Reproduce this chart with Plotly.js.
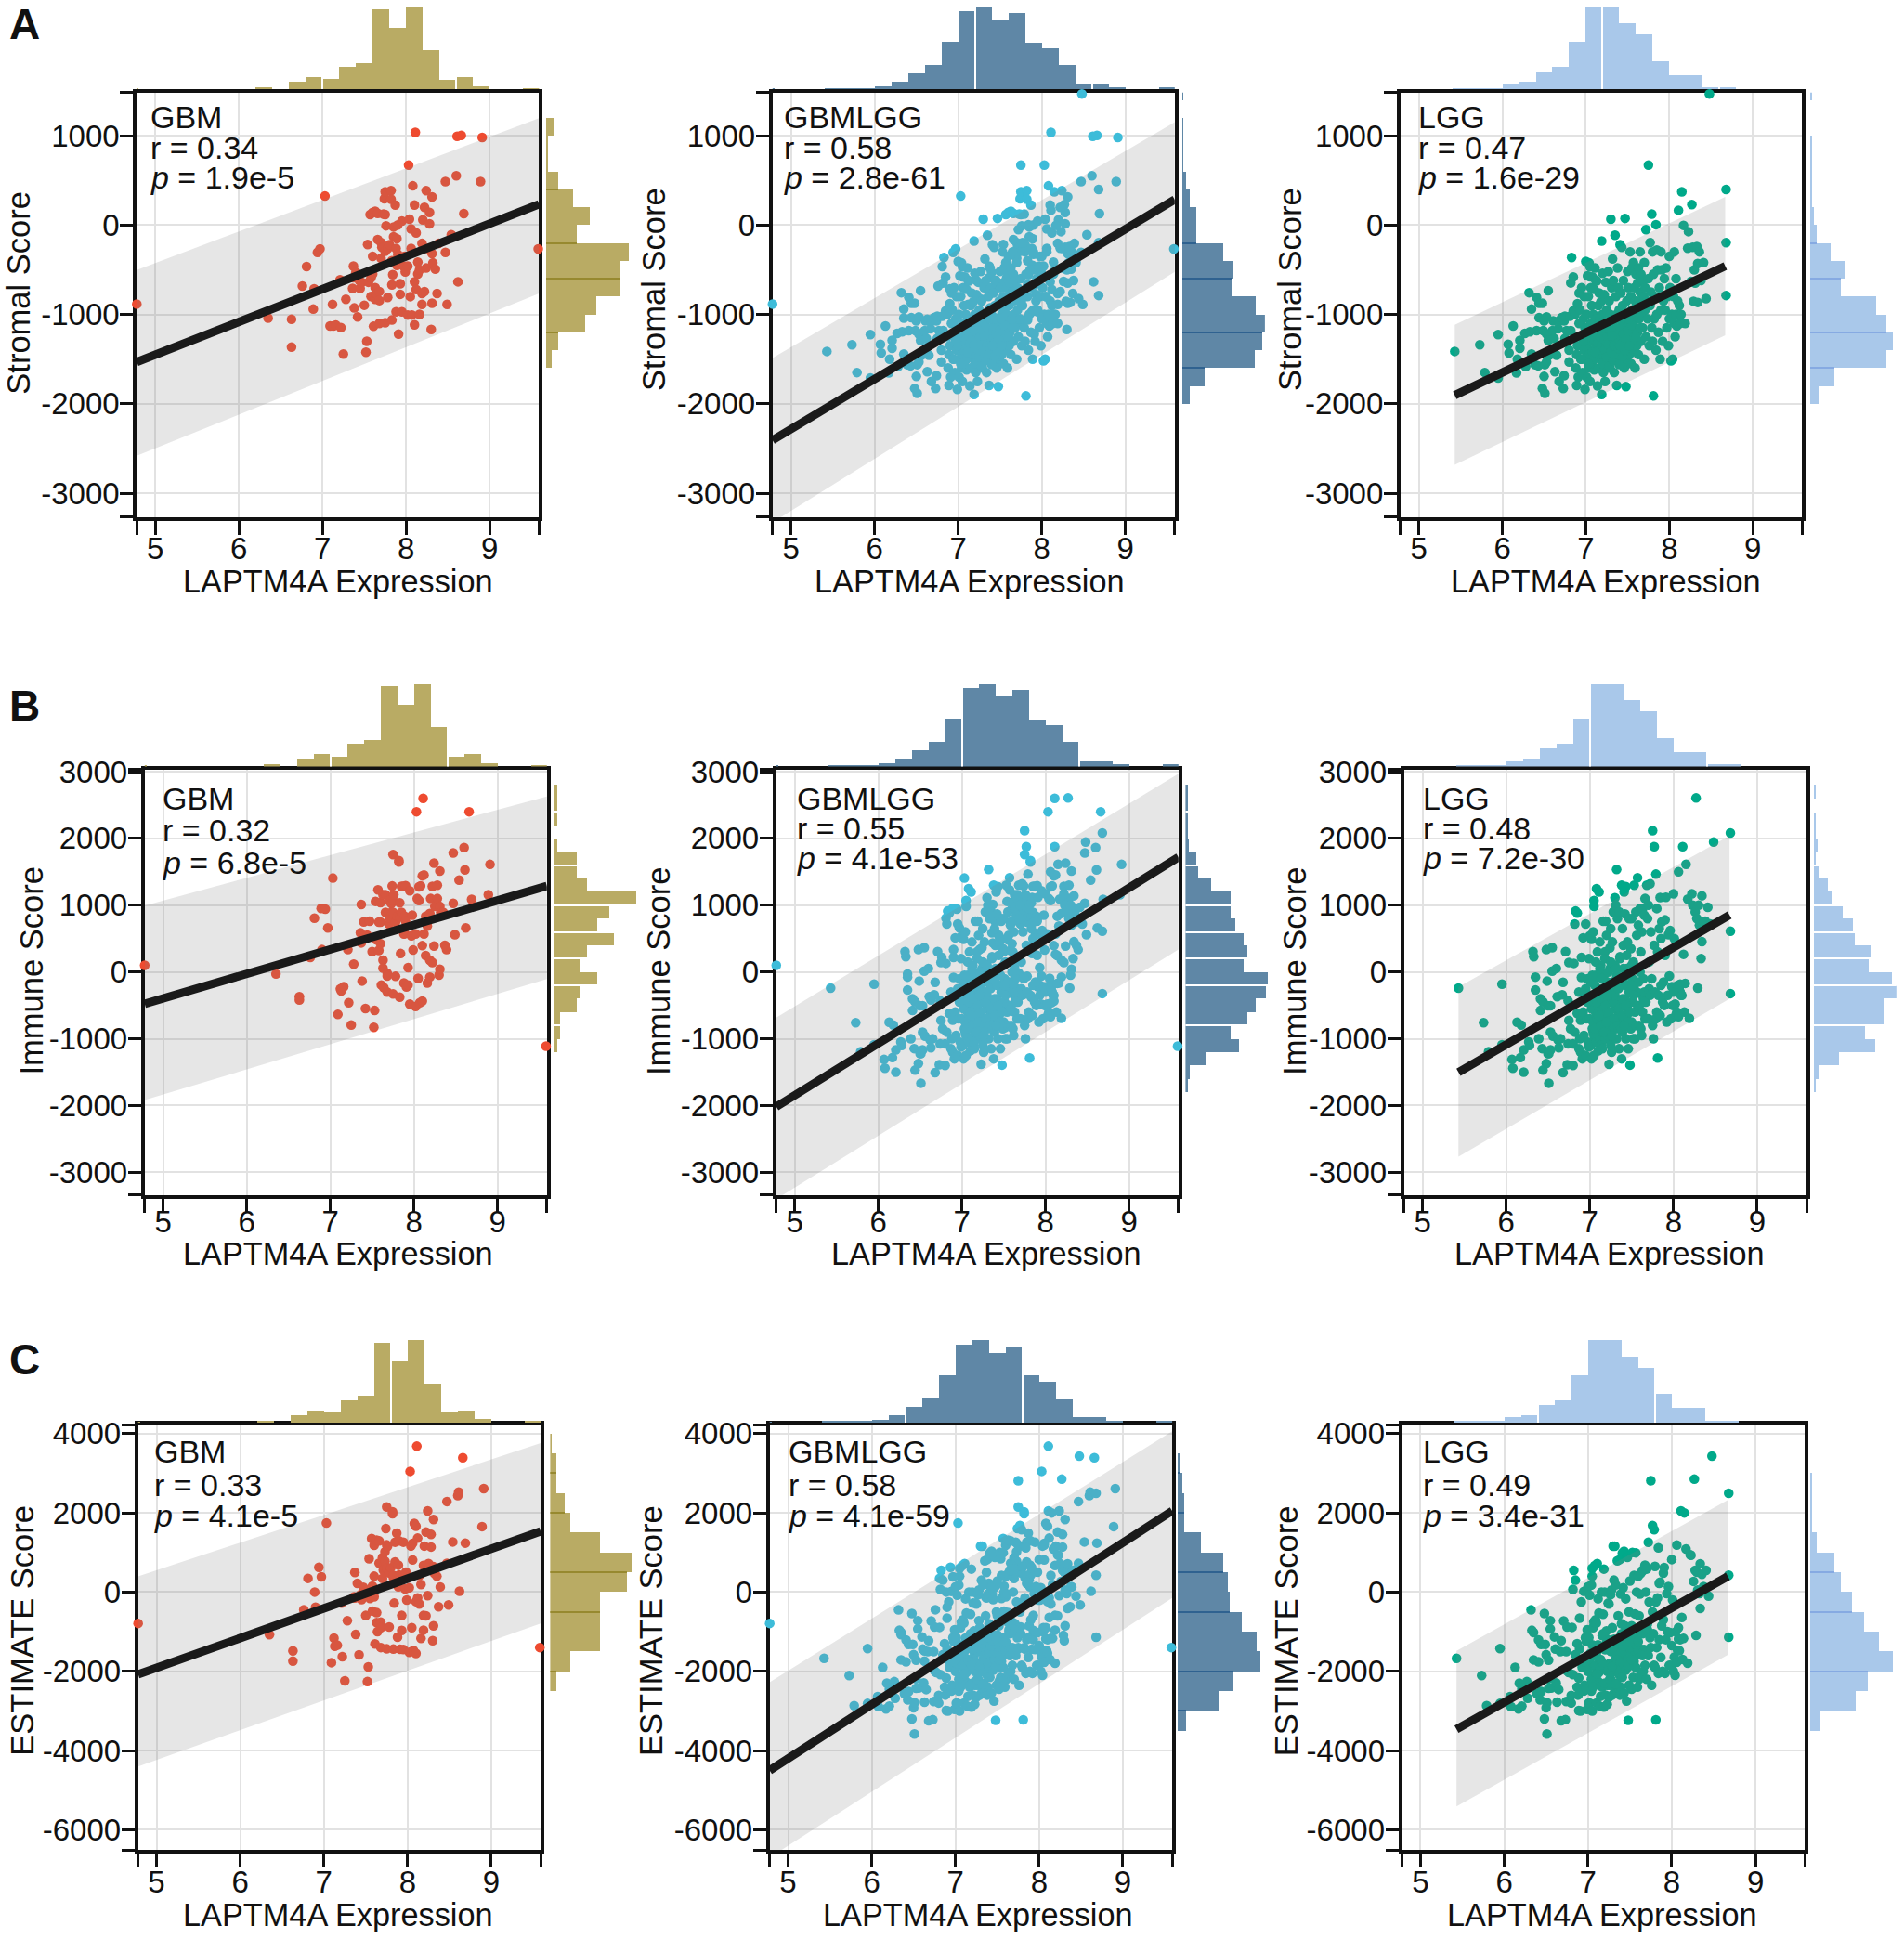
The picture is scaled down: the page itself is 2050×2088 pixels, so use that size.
<!DOCTYPE html>
<html><head><meta charset="utf-8">
<script src="https://cdn.plot.ly/plotly-3.0.1.min.js"></script>
<style>html,body{margin:0;padding:0;background:#fff}#chart{width:2050px;height:2088px}</style>
</head><body><div id="chart"></div>
<script>
// ---------- DATA: values ----------
const gbmX=[4.78,9.58,6.35,6.63,6.63,6.76,6.81,6.89,6.9,6.94,
6.97,7.03,7.09,7.12,7.13,7.16,7.21,7.22,7.25,7.28,
7.36,7.37,7.37,7.38,7.4,7.42,7.44,7.45,7.47,7.5,
7.52,7.53,7.54,7.55,7.57,7.58,7.58,7.6,7.6,7.6,
7.61,7.63,7.63,7.63,7.64,7.66,7.66,7.68,7.68,7.68,
7.7,7.7,7.71,7.73,7.73,7.74,7.75,7.75,7.75,7.75,
7.76,7.78,7.78,7.8,7.82,7.82,7.83,7.83,7.83,7.84,
7.85,7.85,7.87,7.88,7.88,7.89,7.89,7.9,7.9,7.91,
7.93,7.93,7.95,7.95,7.97,7.98,7.99,8.02,8.02,8.03,
8.04,8.05,8.06,8.06,8.07,8.08,8.1,8.1,8.1,8.11,
8.12,8.12,8.14,8.14,8.16,8.16,8.19,8.19,8.19,8.2,
8.22,8.22,8.24,8.24,8.25,8.28,8.28,8.3,8.31,8.31,
8.31,8.32,8.35,8.37,8.39,8.47,8.47,8.49,8.54,8.6,
8.61,8.62,8.66,8.69,8.89,8.91];
const gbmStromal=[-884,-267,-1041,-1055,-1365,-683,-464,-941,-713,-306,
-267,324,-1129,-888,-1129,-1120,-613,-1147,-1444,-831,
-709,-460,-590,-928,-530,-1028,-620,-709,-640,-897,
-1422,-1300,-219,-640,118,-591,-800,140,-350,-547,
-1133,153,-700,-831,-766,131,-162,-744,-845,-1100,
-197,-372,-250,122,-249,293,372,118,-293,-1094,
-9,-262,-810,-220,385,289,-670,-1063,-400,-556,
-22,-131,223,-262,-971,-153,-451,0,-328,-1221,
-656,-775,44,-971,-460,-350,-525,-460,-1006,670,
66,-801,-44,-262,-1006,438,-635,223,-1116,1037,
-88,-722,-547,-416,-503,-1000,-206,-766,-888,57,
197,-744,385,-481,-262,140,13,-1168,315,-319,
-875,-424,-494,-766,-206,486,-306,-888,-109,551,
993,-635,1002,127,486,980];
const gbmImmune=[100,-1110,-30,-418,-370,218,806,953,335,941,
659,1406,-635,-253,-282,-220,335,-459,-794,118,
588,1012,435,-135,750,-547,553,520,760,306,
-829,-576,1058,482,1229,747,323,1040,747,423,
-194,1158,176,59,-235,1158,894,-18,-60,-300,
1070,717,806,894,1023,1288,1758,1070,894,-329,
1158,747,-65,835,1646,1670,1035,-376,823,276,
1282,894,1282,570,-165,835,576,1294,760,-223,
65,-194,1217,-480,541,850,329,570,-517,2400,
1100,-94,1276,1070,-459,1290,394,1440,-435,2600,
1452,570,247,835,688,-165,876,176,-76,1100,
1282,141,1629,388,982,1300,1100,-47,1511,982,
41,894,894,400,335,1782,1029,559,1376,1864,
1529,659,2400,1088,1158,1611];
const gbmEstimate=[-790,-1400,-1075,-1484,-1740,-445,346,0,-380,623,
386,1741,-1780,-1160,-1365,-1340,-280,-1632,-2240,-722,
-120,495,-150,-1068,220,-1583,-60,-190,120,-590,
-2260,-1890,840,-160,1350,150,-480,1180,400,-120,
-1310,1310,-520,-770,-1000,1290,730,-760,-900,-1400,
870,345,555,1016,775,1602,2146,1190,600,-1434,
1150,485,-880,615,2027,1978,365,-1440,420,-280,
1260,760,1484,310,-1140,680,130,1290,430,-1445,
-590,-970,1260,-1450,80,500,-200,110,-1520,3046,
1160,-900,1230,810,-1470,1730,-240,1660,-1550,3680,
1360,-150,-300,420,190,-1170,670,-590,-960,1160,
1513,-600,2047,-90,720,1454,1137,-1226,1830,640,
-850,470,400,-370,129,2285,725,-326,1266,2434,
2522,20,3390,1236,1652,2611];

const lggX=[5.43,5.73,5.79,5.95,5.95,6.07,6.08,6.13,6.17,6.18,
6.21,6.21,6.27,6.28,6.32,6.33,6.35,6.35,6.39,6.41,
6.41,6.43,6.44,6.44,6.48,6.48,6.49,6.5,6.5,6.51,
6.51,6.53,6.53,6.53,6.55,6.55,6.56,6.6,6.61,6.62,
6.63,6.65,6.67,6.68,6.68,6.71,6.73,6.74,6.74,6.75,
6.75,6.77,6.8,6.8,6.81,6.82,6.82,6.83,6.85,6.85,
6.87,6.87,6.88,6.89,6.89,6.9,6.9,6.91,6.92,6.92,
6.93,6.94,6.95,6.95,6.96,6.97,6.98,6.98,6.99,6.99,
7,7,7.01,7.01,7.02,7.02,7.03,7.03,7.04,7.04,
7.05,7.05,7.05,7.05,7.06,7.06,7.07,7.07,7.08,7.08,
7.09,7.09,7.1,7.1,7.1,7.11,7.11,7.12,7.12,7.12,
7.13,7.13,7.14,7.14,7.15,7.15,7.16,7.16,7.17,7.17,
7.18,7.18,7.19,7.19,7.19,7.2,7.2,7.2,7.21,7.21,
7.22,7.22,7.23,7.23,7.24,7.24,7.25,7.25,7.26,7.26,
7.27,7.27,7.28,7.28,7.29,7.29,7.3,7.3,7.31,7.31,
7.32,7.32,7.33,7.33,7.34,7.34,7.35,7.35,7.36,7.36,
7.37,7.37,7.38,7.38,7.39,7.39,7.4,7.4,7.41,7.41,
7.42,7.42,7.43,7.43,7.44,7.44,7.45,7.45,7.46,7.46,
7.47,7.47,7.48,7.48,7.49,7.49,7.5,7.5,7.51,7.51,
7.52,7.52,7.53,7.53,7.54,7.54,7.55,7.55,7.56,7.56,
7.57,7.57,7.58,7.58,7.59,7.59,7.6,7.6,7.61,7.61,
7.62,7.62,7.63,7.63,7.64,7.64,7.65,7.65,7.66,7.66,
7.67,7.68,7.68,7.69,7.7,7.7,7.71,7.71,7.72,7.72,
7.73,7.74,7.75,7.75,7.76,7.77,7.77,7.78,7.79,7.79,
7.8,7.8,7.81,7.81,7.82,7.83,7.84,7.84,7.85,7.85,
7.86,7.87,7.88,7.89,7.9,7.9,7.91,7.92,7.93,7.94,
7.95,7.96,7.97,7.98,7.99,8,8,8.01,8.02,8.03,
8.04,8.05,8.06,8.06,8.07,8.08,8.08,8.09,8.1,8.11,
8.12,8.13,8.14,8.15,8.17,8.19,8.22,8.23,8.26,8.27,
8.28,8.29,8.3,8.31,8.33,8.34,8.34,8.36,8.38,8.41,
8.44,8.48,8.68,8.68,8.68,
// overplotted core of the cloud
7,7.02,7.04,7.05,7.06,7.07,7.08,7.09,7.1,7.1,
7.12,7.13,7.14,7.15,7.16,7.17,7.18,7.19,7.2,7.2,
7.22,7.23,7.24,7.25,7.26,7.27,7.28,7.29,7.3,7.3,
7.32,7.33,7.34,7.35,7.36,7.37,7.38,7.39,7.4,7.4,
7.42,7.43,7.44,7.45,7.46,7.47,7.48,7.5,7.52,7.55,
6.95,6.97,7.03,7.11,7.21,7.31,7.41,7.51,7.6,7.65];
const lggStromal=[-1414,-1339,-1650,-1225,-1711,-1335,-1431,-1129,-1654,-1501,
-1291,-1379,-1212,-1584,-757,-1195,-941,-1444,-1562,-810,
-1182,-1575,-875,-1037,-875,-1829,-1182,-1694,-1072,-1882,
-1562,-1028,-1532,-1217,-735,-1291,-1457,-1182,-1072,-1269,
-1641,-1457,-1160,-1750,-1072,-1037,-1829,-1685,-1072,-1020,
-1269,-1182,-1400,-1532,-1020,-1182,-648,-363,-582,-960,
-1000,-1250,-1600,-1794,-1450,-880,-1350,-1700,-760,-1100,
-950,-1500,-1250,-700,-1650,-1050,-1400,-800,-1838,-1150,
-407,-1300,-1700,-1000,-569,-1500,-1200,-800,-424,-1600,
-468,-580,-1400,-1750,-1100,-700,-1550,-900,-582,-1250,
-1300,-1000,-1620,-1150,-720,-480,-1450,-1050,-1250,-620,
-626,-1380,-1800,-1150,-900,-1480,-1250,-760,-1600,-1050,
-1350,-860,-179,-1895,-1200,-1500,-1000,-540,-1650,-1300,
-1100,-780,-1450,-1750,-1250,-640,-1550,-950,-1350,-1150,
-520,-1400,-1200,-850,-1600,-1000,66,-1300,-1100,-700,
-1500,-380,-1250,-620,-1050,-1650,-114,-1350,-800,-1150,
-1794,-1000,-480,-1300,-1500,-700,-950,-1200,-1050,-220,
-1250,-760,-1550,-250,-1100,-900,-1400,-620,-1200,-1600,
74,-1050,-1807,-1300,-850,-1500,-1100,-520,-1250,-700,
-1000,-1450,-300,-1200,-800,-1550,-950,-480,-1300,-1100,
-420,-1400,-700,-1000,-1600,-850,-1150,-550,-1350,-900,
-650,-1200,-480,-1450,-850,-1050,-300,-750,-1300,-550,
-1000,-620,-1150,-800,-1500,-420,-950,-700,-52,-1250,
-850,-1050,670,-600,-1350,-197,-900,-750,123,-1150,
-300,-1300,-1912,-550,-1050,-800,4,-1400,-280,-1000,
-500,-1200,-700,-1500,-300,-950,-500,-1300,-850,-600,
-950,-480,-1150,-800,-1350,-350,-1050,-700,-1520,-1000,
-1500,-800,-1100,-300,-1250,-600,-1000,-1130,-850,165,
-900,-1100,-1000,372,-4,-1100,-260,-74,-630,228,
-250,-853,-500,-650,-240,-866,-430,-300,-620,-420,
-823,1466,398,-197,-788,
-1350,-1250,-1450,-1180,-1550,-1300,-1420,-1150,-1280,-1500,
-1380,-1200,-1320,-1600,-1100,-1450,-1250,-1350,-1180,-1550,
-1280,-1400,-1120,-1480,-1250,-1340,-1580,-1180,-1420,-1080,
-1260,-1520,-1350,-1150,-1450,-1230,-1050,-1380,-1280,-1560,
-1160,-1330,-1470,-1220,-1050,-1400,-1280,-1180,-1350,-1120,
-1500,-1300,-1550,-1420,-1080,-1240,-1350,-1050,-1250,-1150];
const lggImmune=[-241,-759,-1194,-182,-1088,-1310,-1441,-753,-1282,-794,
-1165,-1500,-1047,-1100,306,229,-76,-270,-1000,-400,
-576,-1147,-447,-1470,335,-1370,-135,-1223,-506,-1665,
-1223,-1165,-900,-506,12,365,-960,53,-370,-1018,
-1135,-1000,-341,-1506,-153,306,-1388,-1076,-430,141,
-724,-850,-1400,-1076,129,-900,718,912,882,-620,
-300,-1150,-1000,-1200,-720,218,-80,-1300,512,-600,
-950,-300,-1250,718,-700,-100,-1050,-450,-1120,200,
541,-700,-1100,-150,490,-1300,-350,-850,600,-900,
1070,982,-950,-1250,-500,-200,-600,150,1247,-1050,
-800,300,-1180,-350,-60,1200,-500,-750,-1000,450,
100,-650,-1080,-250,-900,-1150,-520,760,-800,-50,
-1000,300,760,-1000,-700,-350,-450,550,-950,-150,
-850,-200,-1382,-600,50,360,-1100,650,-450,-1200,
450,-800,-300,900,-1000,100,1112,-550,-850,1000,
-1000,1535,-450,800,-750,-650,900,-1150,200,-150,
-650,-500,1300,-1300,-900,650,-100,400,-800,1200,
-400,870,-1000,1280,-700,50,-550,450,-200,-1150,
800,-600,-1394,-300,350,-850,-750,800,-100,-450,
150,-1000,1300,-250,-1000,-600,-800,900,-300,550,
1412,-500,700,-150,-800,-550,-320,950,-850,300,
600,-950,950,-600,-100,-400,850,-300,-700,1100,
-450,1300,-700,800,-700,1000,150,-250,1320,-350,
600,-100,2118,-800,-1000,1876,400,-300,1465,-700,
950,-600,-1288,300,-350,650,1115,-650,500,-200,
750,-450,-150,-500,780,250,1120,-750,-350,560,
-60,620,-700,-220,-500,1170,-300,500,-480,-640,
-600,-200,-670,1500,-220,-300,-180,-350,-350,1876,
265,-600,-170,1612,1090,-694,1170,1000,900,2606,
800,-241,1000,700,200,453,1141,750,760,970,
720,1947,2082,612,-323,
-350,-550,-750,-150,-850,-50,-450,-700,-250,-600,
50,-800,-400,-100,-650,-900,200,-500,-200,-750,
0,-600,-300,150,-950,-150,-450,-700,100,-350,
-50,-800,-250,-550,230,-850,-100,-400,-650,50,
-200,-500,250,-750,-50,-300,-600,100,-350,-150,
-250,-450,-50,-650,-350,50,-800,-200,0,-450];
const lggEstimate=[-1670,-2107,-2868,-1424,-2810,-2640,-2890,-1900,-2950,-2300,
-2450,-2880,-2260,-2680,-450,-965,-1020,-1710,-2560,-1210,
-1760,-2720,-1320,-2510,-540,-3200,-1320,-2920,-1580,-3580,
-2790,-2190,-2430,-1720,-720,-930,-2420,-1130,-1440,-2290,
-2780,-2460,-1500,-3250,-1225,-730,-3220,-2760,-1500,-880,
-1990,-2030,-2800,-2610,-890,-2080,70,549,300,-1580,
-1300,-2400,-2600,-2990,-2170,-660,-1430,-3000,-250,-1700,
-1900,-1800,-2500,18,-2350,-1150,-2450,-1250,-2960,-950,
134,-2000,-2800,-1150,-80,-2800,-1550,-1650,176,-2500,
600,400,-2350,-3000,-1600,-900,-2150,-750,665,-2300,
-2100,-700,-2800,-1500,-780,720,-1950,-1800,-2250,-170,
-530,-2030,-2880,-1400,-1800,-2630,-1770,0,-2400,-1100,
-2350,-560,580,-2900,-1900,-1850,-1450,0,-2600,-1450,
-1950,-980,-2830,-2350,-1200,-280,-2650,-300,-1800,-2350,
-70,-2200,-1500,50,-2600,-900,1157,-1850,-1950,300,
-2500,1157,-1700,180,-1800,-2300,790,-2500,-600,-1300,
-2450,-1500,820,-2600,-2400,-50,-1050,-800,-1850,980,
-1650,110,-2550,1030,-1800,-850,-1950,-170,-1400,-2750,
874,-1650,-3234,-1600,-500,-2350,-1850,280,-1350,-1150,
-850,-2450,1000,-1450,-1800,-2150,-1750,420,-1600,-550,
990,-1900,0,-1150,-2400,-1400,-1470,400,-2200,-600,
-50,-2150,470,-2050,-950,-1450,550,-1050,-2000,550,
-1450,680,-1850,0,-2200,580,-800,-950,1256,-1600,
-250,-1150,2809,-1400,-2350,1681,-500,-1050,1573,-1850,
650,-1900,-3224,-250,-1400,-150,1118,-2050,220,-1200,
250,-1650,-850,-2000,480,-700,620,-2050,-1200,-40,
-1000,140,-1850,-1020,-1850,820,-1350,-200,-2000,-1640,
-2100,-1000,-1770,1187,-1470,-900,-1180,-1480,-1200,2047,
-640,-1700,-1170,1998,1088,-1795,940,930,270,2848,
550,-1094,500,50,-40,-413,711,450,140,550,
-100,3432,2492,425,-1137,
-1700,-1800,-2200,-1330,-2400,-1350,-1870,-1850,-1530,-2100,
-1330,-2000,-1720,-1700,-1750,-2350,-1050,-1850,-1380,-2300,
-1280,-2000,-1420,-1330,-2200,-1490,-2030,-1880,-1320,-1430,
-1310,-2320,-1600,-1700,-1220,-2080,-1150,-1780,-1930,-1510,
-1360,-1830,-1220,-1970,-1100,-1700,-1880,-1080,-1700,-1270,
-1750,-1750,-1600,-2070,-1430,-1190,-2150,-1250,-1250,-1600];

// marginal histograms along x (bin centres, heights)
const xHistGbmBins=[4.7,6.3,6.7,6.9,7.1,7.3,7.5,7.7,7.9,8.1,8.3,8.5,8.7,8.9,9.5];
const xHistGbm=[3,5,20,32,26,57,68,205,157,211,100,25,31,9,4];
const xHistGbmlggBins=[4.7,5.5,5.7,5.9,6.1,6.3,6.5,6.7,6.9,7.1,7.3,7.5,7.7,7.9,8.1,8.3,8.5,8.7,8.9,9.5];
const xHistGbmlgg=[3,4,4,4,8,20,41,63,121,200,211,178,195,120,105,62,15,15,5,5];
const xHistLggBins=[5.5,5.7,5.9,6.1,6.3,6.5,6.7,6.9,7.1,7.3,7.5,7.7,7.9,8.1,8.3,8.5,8.7];
const xHistLgg=[4,4,4,15,20,46,58,121,211,211,169,140,73,37,37,5,5];

// marginal histograms along y
const stromalBins=[-1900,-1700,-1500,-1300,-1100,-900,-700,-500,-300,-100,100,300,500,700,900,1100,1300,1500];
const stromalHistGbm=[0,0,13,28,93,119,178,178,197,73,103,64,28,4,4,19,0,0];
const stromalHistGbmlgg=[18,53,174,193,199,177,118,123,98,34,34,17,9,3,3,3,0,3];
const stromalHistLgg=[20,60,188,203,188,163,76,86,51,15,8,4,4,4,4,0,0,4];
const immuneBins=[-1700,-1500,-1300,-1100,-900,-700,-500,-300,-100,100,300,500,700,900,1100,1300,1500,1700,1900,2100,2300,2500,2700];
const immuneHistGbm=[0,0,0,9,15,15,55,65,105,65,80,145,105,134,200,80,55,55,9,0,9,9,9];
const immuneHistGbmlgg=[5,10,50,130,110,150,170,195,200,140,150,140,120,110,110,61,30,26,9,6,6,6,6];
const immuneHistLgg=[4,15,62,154,127,173,173,206,194,137,142,102,97,72,45,35,15,4,10,5,5,0,5];
const estimateBins=[-3250,-2750,-2250,-1750,-1250,-750,-250,250,750,1250,1750,2250,2750,3250,3750];
const estimateHistGbm=[0,0,15,49,120,120,120,184,199,120,49,34,15,15,4];
const estimateHistGbmlgg=[20,100,135,199,189,155,125,120,110,55,15,15,11,7,0];
const estimateHistLgg=[25,112,142,203,168,133,102,76,60,15,5,5,5,0,0];

// bin edges where the marginal bars show a seam (white gap or darker overlap)
const stromalSeams={gbm:[400,-200,-600,-1200],gbmlgg:[-200,-600,-1200,-1600],lgg:[-200,-600,-1200,-1600]};
const immuneSeams={gbm:[2400,1600,1000,600,200,-200,-800],gbmlgg:[2400,1600,1000,600,200,-200,-800],lgg:[2400,1600,1000,600,200,-200,-800]};
const estimateSeams={gbm:[3000,2000,500,-500,-2000],gbmlgg:[3000,2000,500,-500,-2000,-3000],lgg:[500,-500,-2000]};
const stromalXGaps={gbm:[7,8.6],gbmlgg:[7.2,8.6],lgg:[7.2,8.6]};
const immuneXGaps={gbm:[7,8.4],gbmlgg:[7,8.4],lgg:[7,8.4]};
const estimateXGaps={gbm:[7.8],gbmlgg:[7.8,6.4],lgg:[7.8,6.4]};

// fitted lines and shaded bands at [left end, right end]
const wideEnds=[4.78,9.59], lggEnds=[5.43,8.67];
const stromalLine={gbm:[-1532,232],gbmlgg:[-2407,284],lgg:[-1904,-460]};
const stromalUpper={gbm:[-503,1195],gbmlgg:[-1488,1151],lgg:[-1116,315]};
const stromalLower={gbm:[-2582,-766],gbmlgg:[-3326,-525],lgg:[-2683,-1234]};
const immuneLine={gbm:[-476,1288],gbmlgg:[-2018,1718],lgg:[-1500,853]};
const immuneUpper={gbm:[994,2629],gbmlgg:[-682,2970],lgg:[-224,2041]};
const immuneLower={gbm:[-1918,-106],gbmlgg:[-3400,335],lgg:[-2765,-400]};
const estimateLine={gbm:[-2077,1533],gbmlgg:[-4500,2047],lgg:[-3462,396]};
const estimateUpper={gbm:[396,3758],gbmlgg:[-2275,4055],lgg:[-1484,2324]};
const estimateLower={gbm:[-4401,-791],gbmlgg:[-6700,-148],lgg:[-5410,-1583]};

const cohortNames={gbm:'GBM',gbmlgg:'GBMLGG',lgg:'LGG'};
const stats={
 stromal:{gbm:['r = 0.34','1.9e-5'],gbmlgg:['r = 0.58','2.8e-61'],lgg:['r = 0.47','1.6e-29']},
 immune:{gbm:['r = 0.32','6.8e-5'],gbmlgg:['r = 0.55','4.1e-53'],lgg:['r = 0.48','7.2e-30']},
 estimate:{gbm:['r = 0.33','4.1e-5'],gbmlgg:['r = 0.58','4.1e-59'],lgg:['r = 0.49','3.4e-31']}
};
const xTickVals=[5,6,7,8,9];
const xAxisRange=[4.78,9.59];
const xLabel='LAPTM4A Expression';

// ---------- STYLE AND PAGE GEOMETRY (pixels) ----------
const W=2050,H=2088,FONT='"Liberation Sans", Arial, sans-serif',INK='#111111';
const markerCol={gbm:'#ee4b30',gbmlgg:'#3dbcd9',lgg:'#00a98a'};
const histCol={gbm:'#b9ab64',gbmlgg:'#5f87a6',lgg:'#a9c8ea'};
const seamCol={gbm:'#97892f',gbmlgg:'#2f6290',lgg:'#86aae2'};
const rows=[
 {key:'stromal',letter:'A',letterY:26,label:'Stromal Score',top:99.7,bottom:556.8,range:[-3267,1481],ticks:[-3000,-2000,-1000,0,1000],xStandoff:-13,
  lineD:stromalLine,up:stromalUpper,lo:stromalLower,ys:{gbm:gbmStromal,lgg:lggStromal},bins:stromalBins,binW:200,
  yh:{gbm:stromalHistGbm,gbmlgg:stromalHistGbmlgg,lgg:stromalHistLgg},seams:stromalSeams,seamW:20,seamWhite:false,xGaps:stromalXGaps,histBase:96.4,xTitleY:626,
  cols:[{c:'gbm',l:147.3,r:580.4,rh:588,tx:160,tys:[126,159,191.5],yt:[20,315.7],xt:364},
        {c:'gbmlgg',l:831.8,r:1264.8,rh:1272.9,tx:842,tys:[126,159,191.5],yt:[704.6,311.4],xt:1044},
        {c:'lgg',l:1507.9,r:1940.2,rh:1949,tx:1525,tys:[126,159,191.5],yt:[1389.5,311.4],xt:1729}]},
 {key:'immune',letter:'B',letterY:760,label:'Immune Score',top:828.5,bottom:1286.8,range:[-3340,3035],ticks:[-3000,-2000,-1000,0,1000,2000,3000],xStandoff:-18,
  lineD:immuneLine,up:immuneUpper,lo:immuneLower,ys:{gbm:gbmImmune,lgg:lggImmune},bins:immuneBins,binW:200,
  yh:{gbm:immuneHistGbm,gbmlgg:immuneHistGbmlgg,lgg:immuneHistLgg},seams:immuneSeams,seamW:28,seamWhite:true,xGaps:immuneXGaps,histBase:825.5,xTitleY:1349.5,
  cols:[{c:'gbm',l:155.8,r:588.8,rh:596.4,tx:173,tys:[859.6,894,928.7],yt:[33.5,1046],xt:364},
        {c:'gbmlgg',l:835.8,r:1268.8,rh:1276.4,tx:855.6,tys:[859.6,892,924.4],yt:[709,1046],xt:1061.7},
        {c:'lgg',l:1511.8,r:1945,rh:1952.8,tx:1529.6,tys:[859.6,892,924.4],yt:[1393.9,1046],xt:1733}]},
 {key:'estimate',letter:'C',letterY:1463.6,label:'ESTIMATE Score',top:1534,bottom:1992.3,range:[-6511,4227],ticks:[-6000,-4000,-2000,0,2000,4000],xStandoff:-13,
  lineD:estimateLine,up:estimateUpper,lo:estimateLower,ys:{gbm:gbmEstimate,lgg:lggEstimate},bins:estimateBins,binW:500,
  yh:{gbm:estimateHistGbm,gbmlgg:estimateHistGbmlgg,lgg:estimateHistLgg},seams:estimateSeams,seamW:45,seamWhite:false,xGaps:estimateXGaps,histBase:1532,xTitleY:2061.5,
  cols:[{c:'gbm',l:148.7,r:582.1,rh:592.4,tx:164.4,tys:[1562.6,1599,1631.8],yt:[23.7,1756],xt:364},
        {c:'gbmlgg',l:828.7,r:1262.1,rh:1268,tx:847,tys:[1562.6,1599,1631.8],yt:[701,1756],xt:1053},
        {c:'lgg',l:1509.6,r:1943.3,rh:1949,tx:1529.6,tys:[1562.6,1599,1631.8],yt:[1385.2,1756],xt:1725}]}
];
const HIST_PX=89;
const xHist={gbm:[xHistGbmBins,xHistGbm],gbmlgg:[xHistGbmlggBins,xHistGbmlgg],lgg:[xHistLggBins,xHistLgg]};

// ---------- BUILD ----------
const traces=[],layout={width:W,height:H,margin:{l:0,r:0,t:0,b:0},paper_bgcolor:'#fff',plot_bgcolor:'rgba(0,0,0,0)',
 showlegend:false,bargap:0,hovermode:false,font:{family:FONT,color:INK},annotations:[]};
let axisN=0;
const px=x=>x/W, py=y=>1-y/H;
function newAxes(){axisN++;const s=axisN===1?'':String(axisN);return{xk:'xaxis'+s,yk:'yaxis'+s,x:'x'+s,y:'y'+s};}
function note(text,x,y,size,extra){layout.annotations.push(Object.assign({text,xref:'paper',yref:'paper',x:px(x),y:py(y),
  showarrow:false,xanchor:'left',yanchor:'middle',font:{family:FONT,size,color:INK}},extra||{}));}

rows.forEach(row=>{
 note('<b>'+row.letter+'</b>',26,row.letterY,46,{xanchor:'center'});
 row.cols.forEach(col=>{
  const c=col.c,a=newAxes();
  const ptsX=c==='gbmlgg'?gbmX.concat(lggX):(c==='gbm'?gbmX:lggX);
  const ptsY=c==='gbmlgg'?row.ys.gbm.concat(row.ys.lgg):row.ys[c];
  const ends=c==='lgg'?lggEnds:wideEnds;
  traces.push({type:'scatter',mode:'markers',x:ptsX,y:ptsY,xaxis:a.x,yaxis:a.y,cliponaxis:false,
    marker:{size:10.5,color:markerCol[c],line:{width:0}}});
  traces.push({type:'scatter',mode:'lines',x:[ends[0],ends[1],ends[1],ends[0],ends[0]],
    y:[row.up[c][0],row.up[c][1],row.lo[c][1],row.lo[c][0],row.up[c][0]],xaxis:a.x,yaxis:a.y,
    fill:'toself',fillcolor:'rgba(130,130,130,0.2)',line:{width:0,color:'rgba(0,0,0,0)'}});
  traces.push({type:'scatter',mode:'lines',x:ends,y:row.lineD[c],xaxis:a.x,yaxis:a.y,line:{color:'#1a1a1a',width:9}});
  const axisBase={showline:true,mirror:true,linecolor:INK,linewidth:4,ticks:'outside',tickwidth:3,tickcolor:INK,
    zeroline:false,showgrid:true,gridcolor:'#e2e2e2',gridwidth:2,layer:'below traces',tickfont:{family:FONT,size:33,color:INK},fixedrange:true};
  layout[a.xk]=Object.assign({},axisBase,{domain:[px(col.l),px(col.r)],range:xAxisRange,anchor:a.y,ticklen:15,ticklabelstandoff:row.xStandoff,tickmode:'array',
    tickvals:[xAxisRange[0]].concat(xTickVals,[xAxisRange[1]]),ticktext:[''].concat(xTickVals.map(String),['']),tickangle:0});
  layout[a.yk]=Object.assign({},axisBase,{domain:[py(row.bottom),py(row.top)],range:row.range,anchor:a.x,ticklen:14,ticklabelstandoff:-6,tickmode:'array',
    tickvals:[row.range[0]].concat(row.ticks,[row.range[1]]),ticktext:[''].concat(row.ticks.map(String),[''])});
  // top marginal histogram
  const t=newAxes(),hx=xHist[c],hxMax=Math.max(...hx[1]);
  traces.push({type:'bar',x:hx[0],y:hx[1],width:0.2,xaxis:t.x,yaxis:t.y,marker:{color:histCol[c],line:{width:0}}});
  traces.push({type:'bar',x:row.xGaps[c],y:row.xGaps[c].map(()=>hxMax),width:0.022,xaxis:t.x,yaxis:t.y,marker:{color:'#ffffff',line:{width:0}}});
  layout[t.xk]={domain:[px(col.l),px(col.r)],range:xAxisRange,anchor:t.y,visible:false,fixedrange:true};
  layout[t.yk]={domain:[py(row.histBase),py(row.histBase-HIST_PX)],range:[0,hxMax],anchor:t.x,visible:false,fixedrange:true};
  // right marginal histogram
  const s=newAxes(),hy=row.yh[c];
  traces.push({type:'bar',orientation:'h',y:row.bins,x:hy,width:row.binW,xaxis:s.x,yaxis:s.y,marker:{color:histCol[c],line:{width:0}}});
  const seamLen=row.seams[c].map(edge=>{
    const i=row.bins.findIndex(b=>b>edge);          // bin just above this edge
    const pair=[hy[i],hy[i-1]].filter(v=>v!==undefined);
    return row.seamWhite?Math.max(...pair):Math.min(...pair);
  });
  traces.push({type:'bar',orientation:'h',y:row.seams[c],x:seamLen,width:row.seamW,xaxis:s.x,yaxis:s.y,
    marker:{color:row.seamWhite?'#ffffff':seamCol[c],line:{width:0}}});
  layout[s.xk]={domain:[px(col.rh),px(col.rh+HIST_PX)],range:[0,Math.max(...hy)],anchor:s.y,visible:false,fixedrange:true};
  layout[s.yk]={domain:[py(row.bottom),py(row.top)],range:row.range,anchor:s.x,visible:false,fixedrange:true};
  // texts
  const st=stats[row.key][c];
  note(cohortNames[c],col.tx,col.tys[0],34);
  note(st[0],col.tx,col.tys[1],34);
  note('<i>p</i> = '+st[1],col.tx,col.tys[2],34);
  note(row.label,col.yt[0],col.yt[1],34.5,{xanchor:'center',textangle:-90});
  note(xLabel,col.xt,row.xTitleY,34.3,{xanchor:'center'});
 });
});
layout.barmode='overlay';
Plotly.newPlot('chart',traces,layout,{staticPlot:true,displayModeBar:false});
</script></body></html>
